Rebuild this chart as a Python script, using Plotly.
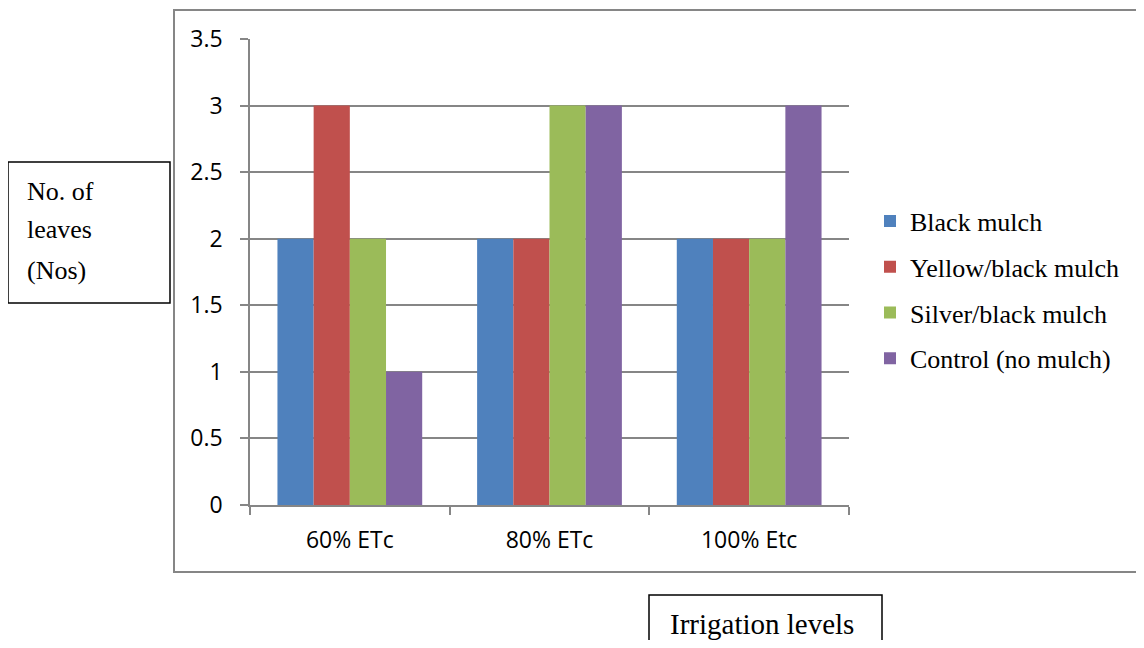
import plotly.graph_objects as go

categories = ["60% ETc", "80% ETc", "100% Etc"]
black_mulch = [2, 2, 2]
yellow_black_mulch = [3, 2, 2]
silver_black_mulch = [2, 3, 2]
control_no_mulch = [1, 3, 3]

series = [
    ("Black mulch", black_mulch, "#4F81BD"),
    ("Yellow/black mulch", yellow_black_mulch, "#C0504D"),
    ("Silver/black mulch", silver_black_mulch, "#9BBB59"),
    ("Control (no mulch)", control_no_mulch, "#8064A2"),
]
y_ticks = [0, 0.5, 1, 1.5, 2, 2.5, 3, 3.5]
y_tick_text = ["0", "0.5", "1", "1.5", "2", "2.5", "3", "3.5"]

fig = go.Figure()
for i, (name, vals, col) in enumerate(series):
    fig.add_trace(go.Bar(x=categories, y=vals, name=name, marker_color=col,
                         marker_line_width=0, legendgroup=f"g{i}"))

# page body has an 8px margin; screen coordinates below
OFF = 8
W, H = 1144 - OFF, 648 - 2 * OFF
L, R, T, B = 250, 849, 39, 505
pw, ph = R - L, B - T

def px(x):
    return (x - L) / pw

def py(y):
    return (B - y) / ph

tick_font = dict(family="Open Sans, Lato, sans-serif", size=23, color="#000000")
serif = "Liberation Serif, Times New Roman, serif"

fig.update_layout(
    width=W, height=H,
    margin=dict(l=L - OFF, r=1144 - R, t=T - OFF, b=(H + OFF) - B),
    paper_bgcolor="white", plot_bgcolor="white",
    barmode="group", bargap=0.275, bargroupgap=0,
    showlegend=True,
    legend=dict(x=px(870), y=py(290), xanchor="left", yanchor="middle",
                font=dict(family=serif, size=26, color="#000000"),
                tracegroupgap=9, bgcolor="rgba(0,0,0,0)", traceorder="grouped"),
    xaxis=dict(type="category", showline=True, linecolor="#868686", linewidth=1.5,
               ticks="outside", tickson="boundaries", ticklen=8, tickcolor="#868686",
               tickwidth=1.5, tickfont=tick_font, ticklabelstandoff=14,
               showgrid=False, zeroline=False),
    yaxis=dict(range=[0, 3.5], tickvals=y_ticks, ticktext=y_tick_text,
               showline=True, linecolor="#868686", linewidth=1.5,
               ticks="outside", ticklen=8, tickcolor="#868686", tickwidth=1.5,
               tickfont=tick_font, ticklabelstandoff=13,
               showgrid=True, gridcolor="#868686", gridwidth=1.5, zeroline=False),
)

# outer chart frame
fig.add_shape(type="rect", xref="paper", yref="paper",
              x0=px(174), x1=px(1160), y0=py(572), y1=py(10),
              line=dict(color="#868686", width=2), layer="below")
# y-label box
fig.add_shape(type="rect", xref="paper", yref="paper",
              x0=px(8), x1=px(170), y0=py(303), y1=py(162),
              line=dict(color="#000000", width=1.5))
for txt, yy in [("No. of", 191), ("leaves", 230), ("(Nos)", 270)]:
    fig.add_annotation(text=txt, xref="paper", yref="paper", x=px(25), y=py(yy),
                       xanchor="left", yanchor="middle", showarrow=False,
                       font=dict(family=serif, size=26, color="#000000"))
# x-label box
fig.add_shape(type="rect", xref="paper", yref="paper",
              x0=px(649), x1=px(882), y0=py(680), y1=py(595),
              line=dict(color="#000000", width=1.5))
fig.add_annotation(text="Irrigation levels", xref="paper", yref="paper",
                   x=px(668), y=py(624), xanchor="left", yanchor="middle",
                   showarrow=False, font=dict(family=serif, size=29, color="#000000"))

fig.write_html("out.html")
